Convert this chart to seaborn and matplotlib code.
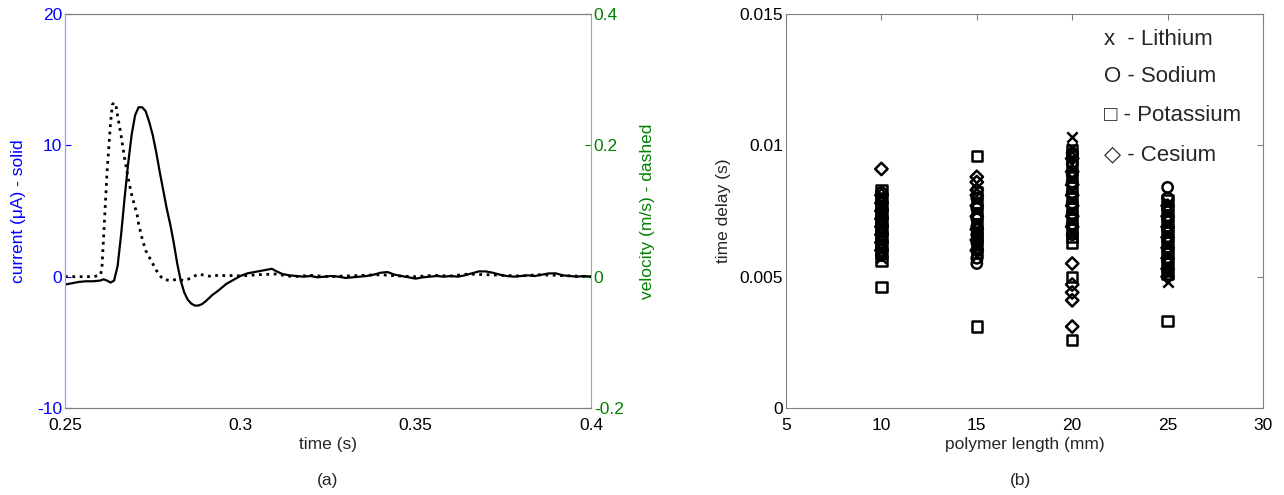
import numpy as np
import pandas as pd
import matplotlib
matplotlib.use("Agg")
import matplotlib.pyplot as plt
import seaborn as sns

sns.set_style("white")
plt.rcParams["font.family"] = ["Liberation Sans", "DejaVu Sans"]
plt.rcParams["axes.unicode_minus"] = False

# ---- (a) current and velocity traces ----
t_current = [0.2500, 0.2520, 0.2540, 0.2560, 0.2580, 0.2600, 0.2610, 0.2620, 0.2630, 0.2640,
             0.2650, 0.2660, 0.2670, 0.2680, 0.2690, 0.2700, 0.2710, 0.2720, 0.2730, 0.2740,
             0.2750, 0.2760, 0.2770, 0.2780, 0.2790, 0.2800, 0.2810, 0.2820, 0.2830, 0.2840,
             0.2850, 0.2860, 0.2870, 0.2880, 0.2890, 0.2900, 0.2920, 0.2940, 0.2960, 0.2980,
             0.3000, 0.3020, 0.3040, 0.3060, 0.3080, 0.3090, 0.3100, 0.3120, 0.3140, 0.3160,
             0.3180, 0.3200, 0.3220, 0.3240, 0.3260, 0.3280, 0.3300, 0.3320, 0.3340, 0.3360,
             0.3380, 0.3400, 0.3420, 0.3440, 0.3460, 0.3480, 0.3500, 0.3520, 0.3540, 0.3560,
             0.3580, 0.3600, 0.3620, 0.3640, 0.3660, 0.3680, 0.3700, 0.3720, 0.3740, 0.3760,
             0.3780, 0.3800, 0.3820, 0.3840, 0.3860, 0.3880, 0.3900, 0.3920, 0.3940, 0.3960,
             0.3980, 0.4000]
current = [-0.60, -0.50, -0.40, -0.35, -0.35, -0.30, -0.20, -0.30, -0.45, -0.30,
           0.80, 3.20, 6.00, 8.60, 10.80, 12.30, 12.90, 12.90, 12.60, 11.80,
           10.80, 9.50, 8.00, 6.60, 5.20, 4.00, 2.60, 1.00, -0.30, -1.20,
           -1.75, -2.05, -2.20, -2.20, -2.10, -1.90, -1.40, -1.00, -0.55, -0.25,
           0.05, 0.25, 0.35, 0.45, 0.55, 0.60, 0.45, 0.20, 0.10, 0.05,
           0.00, 0.05, -0.05, 0.00, 0.05, 0.00, -0.10, -0.05, 0.00, 0.05,
           0.15, 0.30, 0.35, 0.15, 0.05, -0.05, -0.15, -0.05, 0.00, 0.05,
           0.00, 0.05, 0.00, 0.10, 0.25, 0.40, 0.40, 0.30, 0.15, 0.05,
           0.00, 0.05, 0.10, 0.05, 0.15, 0.25, 0.25, 0.10, 0.05, 0.00,
           0.05, 0.00]

t_velocity = [0.2500, 0.2550, 0.2580, 0.2600, 0.2605, 0.2610, 0.2620, 0.2630, 0.2635, 0.2640,
              0.2645, 0.2650, 0.2660, 0.2670, 0.2680, 0.2690, 0.2700, 0.2705, 0.2710, 0.2720,
              0.2730, 0.2740, 0.2750, 0.2760, 0.2770, 0.2780, 0.2800, 0.2820, 0.2840, 0.2860,
              0.2880, 0.2900, 0.2920, 0.2940, 0.2960, 0.2980, 0.3000, 0.3050, 0.3100, 0.3150,
              0.3200, 0.3250, 0.3300, 0.3350, 0.3400, 0.3450, 0.3500, 0.3550, 0.3600, 0.3650,
              0.3700, 0.3750, 0.3800, 0.3850, 0.3900, 0.3950, 0.4000]
velocity = [0.000, 0.000, 0.000, 0.002, 0.010, 0.060, 0.160, 0.235, 0.262, 0.265,
            0.262, 0.245, 0.215, 0.180, 0.150, 0.125, 0.105, 0.097, 0.080, 0.058,
            0.040, 0.030, 0.020, 0.010, 0.002, -0.004, -0.006, -0.004, -0.006, -0.002,
            0.004, 0.002, 0.000, 0.003, 0.001, 0.002, 0.001, 0.003, 0.004, 0.000,
            0.002, 0.000, 0.001, 0.002, 0.003, 0.001, 0.000, 0.002, 0.001, 0.004,
            0.003, 0.002, 0.001, 0.003, 0.002, 0.001, 0.000]

# ---- (b) time delay vs polymer length, per ion ----
lithium_len = [10] * 9 + [15] * 7 + [20] * 10 + [25] * 9
lithium_delay = [0.0081, 0.0078, 0.0075, 0.0072, 0.0069, 0.0066, 0.0063, 0.0060, 0.0057,
                 0.0079, 0.0075, 0.0071, 0.0067, 0.0064, 0.0061, 0.0058,
                 0.0103, 0.0099, 0.0095, 0.0091, 0.0087, 0.0083, 0.0079, 0.0075, 0.0071, 0.0067,
                 0.0078, 0.0074, 0.0070, 0.0066, 0.0062, 0.0058, 0.0054, 0.0051, 0.0048]
sodium_len = [10] * 9 + [15] * 9 + [20] * 9 + [25] * 9
sodium_delay = [0.0082, 0.0079, 0.0076, 0.0073, 0.0070, 0.0067, 0.0064, 0.0061, 0.0058,
                0.0080, 0.0076, 0.0072, 0.0069, 0.0066, 0.0063, 0.0060, 0.0057, 0.0055,
                0.0097, 0.0093, 0.0089, 0.0086, 0.0082, 0.0078, 0.0074, 0.0070, 0.0066,
                0.0084, 0.0080, 0.0076, 0.0072, 0.0068, 0.0064, 0.0060, 0.0056, 0.0052]
potassium_len = [10] * 11 + [15] * 10 + [20] * 13 + [25] * 9
potassium_delay = [0.0083, 0.0080, 0.0077, 0.0074, 0.0071, 0.0068, 0.0065, 0.0062, 0.0059, 0.0056, 0.0046,
                   0.0096, 0.0082, 0.0078, 0.0074, 0.0070, 0.0067, 0.0065, 0.0062, 0.0059, 0.0031,
                   0.0098, 0.0096, 0.0092, 0.0088, 0.0084, 0.0080, 0.0076, 0.0072, 0.0068, 0.0065,
                   0.0063, 0.0050, 0.0026,
                   0.0079, 0.0075, 0.0071, 0.0067, 0.0063, 0.0059, 0.0055, 0.0051, 0.0033]
cesium_len = [10] * 9 + [15] * 9 + [20] * 12 + [25] * 8
cesium_delay = [0.0091, 0.0081, 0.0078, 0.0075, 0.0072, 0.0069, 0.0066, 0.0063, 0.0060,
                0.0088, 0.0086, 0.0083, 0.0081, 0.0077, 0.0073, 0.0068, 0.0064, 0.0060,
                0.0095, 0.0090, 0.0085, 0.0081, 0.0077, 0.0073, 0.0069, 0.0055, 0.0047, 0.0044,
                0.0041, 0.0031,
                0.0077, 0.0073, 0.0069, 0.0065, 0.0061, 0.0057, 0.0053, 0.0050]

legend_lines = ["x  - Lithium", "O - Sodium", "\u25a1 - Potassium", "\u25c7 - Cesium"]

BLUE = "#0000ff"
GREEN = "#008000"
GRAY = "#808080"
FS = 12.5

fig = plt.figure(figsize=(12.84, 4.95), dpi=100)
ax = fig.add_axes([65 / 1284, 1 - 408 / 495, (591 - 65) / 1284, (408 - 14) / 495])
ax2 = ax.twinx()

df_cur = pd.DataFrame({"t": t_current, "i": current})
df_vel = pd.DataFrame({"t": t_velocity, "v": velocity})
sns.lineplot(data=df_cur, x="t", y="i", ax=ax, color="black", linewidth=1.6)
sns.lineplot(data=df_vel, x="t", y="v", ax=ax2, color="black", linewidth=2.0, linestyle=":")

ax.set_xlim(0.25, 0.4)
ax.set_ylim(-10, 20)
ax2.set_ylim(-0.2, 0.4)
ax.set_xticks([0.25, 0.3, 0.35, 0.4])
ax.set_xticklabels(["0.25", "0.3", "0.35", "0.4"])
ax.set_yticks([-10, 0, 10, 20])
ax2.set_yticks([-0.2, 0, 0.2, 0.4])
ax2.set_yticklabels(["-0.2", "0", "0.2", "0.4"])

for a in (ax, ax2):
    for s in a.spines.values():
        s.set_linewidth(0.8)
        s.set_color(GRAY)
ax.spines["left"].set_color("#9a9aff")
ax2.spines["left"].set_color("#9a9aff")
ax2.spines["right"].set_color("#80c080")
ax.spines["right"].set_visible(False)

ax.tick_params(axis="x", direction="in", length=4, colors=GRAY, labelcolor="black",
               labelsize=FS, pad=7)
ax.tick_params(axis="y", direction="in", length=4, colors=BLUE, labelcolor=BLUE,
               labelsize=FS, pad=2)
ax2.tick_params(axis="y", direction="in", length=4, colors=GREEN, labelcolor=GREEN,
                labelsize=FS, pad=2)
ax.set_xlabel("time (s)", fontsize=FS, labelpad=3)
ax.set_ylabel("current (\u03bcA) - solid", fontsize=FS, color=BLUE, labelpad=8)
ax2.set_ylabel("velocity (m/s) - dashed", fontsize=FS, color=GREEN, labelpad=12)
ax.grid(False)
ax2.grid(False)

# ---- panel (b) ----
bx = fig.add_axes([786 / 1284, 1 - 408 / 495, (1263 - 786) / 1284, (408 - 14) / 495])
ion_sets = [
    (lithium_len, lithium_delay, "x", False),
    (sodium_len, sodium_delay, "o", True),
    (potassium_len, potassium_delay, "s", True),
    (cesium_len, cesium_delay, "D", True),
]
for lengths, delays, marker, hollow in ion_sets:
    d = pd.DataFrame({"len": lengths, "delay": delays})
    n_before = len(bx.collections)
    sns.scatterplot(data=d, x="len", y="delay", ax=bx, marker=marker,
                    s=55 if marker != "D" else 40,
                    color="black", linewidth=1.8, legend=False)
    coll = bx.collections[n_before]
    if hollow:
        coll.set_facecolor("none")
    coll.set_edgecolor("black")
    coll.set_linewidth(1.8)

bx.set_xlim(5, 30)
bx.set_ylim(0, 0.015)
bx.set_xticks([5, 10, 15, 20, 25, 30])
bx.set_yticks([0, 0.005, 0.01, 0.015])
bx.set_yticklabels(["0", "0.005", "0.01", "0.015"])
for s in bx.spines.values():
    s.set_linewidth(0.8)
    s.set_color(GRAY)
bx.tick_params(axis="both", direction="in", length=4, colors=GRAY, labelcolor="black",
               labelsize=FS, top=True, right=True)
bx.tick_params(axis="x", pad=7)
bx.tick_params(axis="y", pad=2)
bx.set_xlabel("polymer length (mm)", fontsize=FS, labelpad=3)
bx.set_ylabel("time delay (s)", fontsize=FS, labelpad=6)
bx.grid(False)

legend_y = [0.015 - 0.00097, 0.015 - 0.00238, 0.015 - 0.00386, 0.015 - 0.00535]
for txt, yv in zip(legend_lines, legend_y):
    bx.text(21.65, yv, txt, fontsize=16, va="center", ha="left",
            family=["Liberation Sans", "DejaVu Sans"])

fig.text(328 / 1284, 1 - 480 / 495, "(a)", fontsize=FS, ha="center", va="center")
fig.text(1021 / 1284, 1 - 480 / 495, "(b)", fontsize=FS, ha="center", va="center")

fig.savefig("out.png", dpi=100, facecolor="white")
